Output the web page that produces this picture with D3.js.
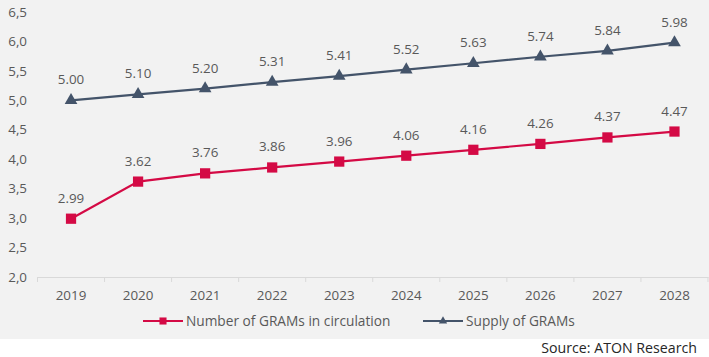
<!DOCTYPE html>
<html><head><meta charset="utf-8">
<script src="https://cdn.jsdelivr.net/npm/d3@7"></script>
<style>body{margin:0;background:#fff}svg{display:block}text{font-family:"Open Sans",sans-serif}</style>
</head><body><svg id="c" width="709" height="357"></svg>
<script>
const years = ["2019","2020","2021","2022","2023","2024","2025","2026","2027","2028"];
const circulation = [2.99,3.62,3.76,3.86,3.96,4.06,4.16,4.26,4.37,4.47];
const supply = [5.00,5.10,5.20,5.31,5.41,5.52,5.63,5.74,5.84,5.98];
const yTicks = [2.0,2.5,3.0,3.5,4.0,4.5,5.0,5.5,6.0,6.5];
const seriesNames = ["Number of GRAMs in circulation","Supply of GRAMs"];
const source = "Source: ATON Research";

const svg = d3.select("#c");
const W=709,H=357;
const fs=13.4;
svg.append("rect").attr("x",0).attr("y",0).attr("width",W).attr("height",339).attr("fill","#f2f2f2");
const x = d3.scaleBand().domain(years).range([37.5,708]);
const y = d3.scaleLinear().domain([2,6.5]).range([277,12]);
const txt="#595959";
svg.selectAll(".yl").data(yTicks).enter().append("text")
  .attr("x",27).attr("y",d=>y(d)).attr("dy","0.35em").attr("text-anchor","end")
  .attr("font-size",fs).attr("fill",txt).text(d=>d.toFixed(1).replace(".",","));
const ax = svg.append("g").attr("transform","translate(0,277)")
  .call(d3.axisBottom(x).tickSize(0).tickPadding(13));
ax.select(".domain").attr("stroke","#d9d9d9");
ax.selectAll("text").attr("font-size",fs).attr("fill",txt).attr("font-family","Open Sans");
const bounds = years.map(d=>x(d)).concat([x(years[years.length-1])+x.bandwidth()]);
svg.selectAll(".tk").data(bounds).enter().append("line")
  .attr("x1",d=>d).attr("x2",d=>d).attr("y1",277).attr("y2",282).attr("stroke","#d9d9d9");
const cx = d=>x(d)+x.bandwidth()/2;
const series = [
  {vals:circulation,color:"#d40a45",sym:d3.symbolSquare,size:105},
  {vals:supply,color:"#44546a",sym:d3.symbolTriangle,size:70}
];
series.forEach(s=>{
  const pts = years.map((yr,i)=>[cx(yr),y(s.vals[i]),s.vals[i]]);
  svg.append("path").attr("d",d3.line()(pts.map(p=>[p[0],p[1]]))).attr("fill","none")
    .attr("stroke",s.color).attr("stroke-width",2.2);
  svg.selectAll(null).data(pts).enter().append("path")
    .attr("d",d3.symbol().type(s.sym).size(s.size)).attr("fill",s.color)
    .attr("transform",p=>`translate(${p[0]},${p[1]})`);
  svg.selectAll(null).data(pts).enter().append("text")
    .attr("x",p=>p[0]).attr("y",p=>p[1]-16).attr("text-anchor","middle")
    .attr("font-size",fs).attr("fill",txt).text(p=>p[2].toFixed(2));
});
const leg = [{x:143,tx:186},{x:423,tx:466}];
series.forEach((s,i)=>{
  const g=svg.append("g");
  g.append("line").attr("x1",leg[i].x).attr("x2",leg[i].x+40).attr("y1",321).attr("y2",321).attr("stroke",s.color).attr("stroke-width",2.2);
  g.append("path").attr("d",d3.symbol().type(s.sym).size(i?30:50)).attr("fill",s.color).attr("transform",`translate(${leg[i].x+20},321)`);
  g.append("text").attr("x",leg[i].tx).attr("y",321).attr("dy","0.35em").attr("font-size",fs+0.3).attr("fill",txt).text(seriesNames[i]);
});
svg.append("text").attr("x",697).attr("y",348).attr("dy","0.35em").attr("text-anchor","end").attr("font-size",14.2).attr("fill","#262626").text(source);
</script></body></html>
